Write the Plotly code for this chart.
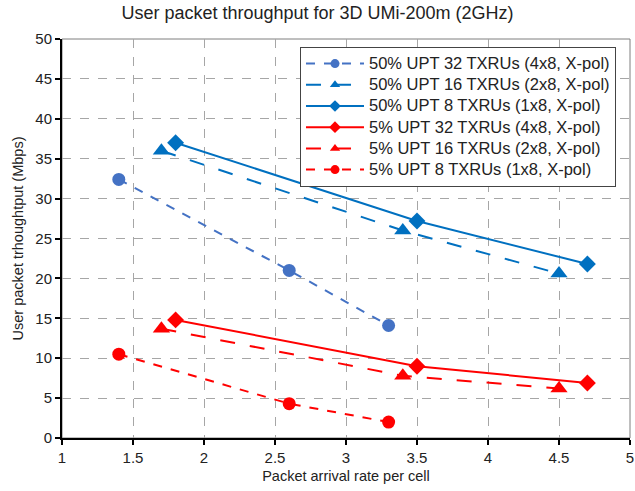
import plotly.graph_objects as go

names = [
    "50% UPT 32 TXRUs (4x8, X-pol)",
    "50% UPT 16 TXRUs (2x8, X-pol)",
    "50% UPT 8 TXRUs (1x8, X-pol)",
    "5% UPT 32 TXRUs (4x8, X-pol)",
    "5% UPT 16 TXRUs (2x8, X-pol)",
    "5% UPT 8 TXRUs (1x8, X-pol)",
]
x_a = [1.4, 2.6, 3.3]
x_b = [1.7, 3.4, 4.5]
x_c = [1.8, 3.5, 4.7]
upt50_32 = [32.4, 21.0, 14.1]
upt50_16 = [36.0, 26.0, 20.6]
upt50_8 = [37.0, 27.2, 21.8]
upt5_32 = [14.8, 9.0, 6.9]
upt5_16 = [13.7, 7.8, 6.2]
upt5_8 = [10.5, 4.3, 2.0]

xs = [x_a, x_b, x_c, x_c, x_b, x_a]
ys = [upt50_32, upt50_16, upt50_8, upt5_32, upt5_16, upt5_8]
colors = ["#4472C4", "#0070C0", "#0070C0", "#FF0000", "#FF0000", "#FF0000"]
dashes = ["dash", "longdash", "solid", "solid", "longdash", "dash"]
symbols = ["circle", "triangle-up", "diamond", "diamond", "triangle-up", "circle"]
sizes = [13, 15, 13, 13, 15, 13]

fig = go.Figure()
for i, (n, x, y, c, d, s, sz) in enumerate(zip(names, xs, ys, colors, dashes, symbols, sizes)):
    fig.add_trace(go.Scatter(
        x=x, y=y, name=n, legendgroup=str(i), showlegend=False,
        mode="lines+markers",
        line=dict(color=c, width=2, dash=d),
        marker=dict(symbol=s, size=sz, color=c),
    ))
    # legend entry with smaller marker
    fig.add_trace(go.Scatter(
        x=[None], y=[None], legendgroup=str(i), showlegend=True,
        name='<span style="font-size:16.5px">' + n + '</span>',
        mode="lines+markers",
        line=dict(color=c, width=2, dash=d),
        marker=dict(symbol=s, size=9, color=c),
    ))

# gray frame on top/right of plot area
fig.add_shape(type="rect", xref="x domain", yref="y domain", x0=0, x1=1, y0=0, y1=1,
              line=dict(color="#7F7F7F", width=1), layer="below")

fig.update_layout(
    width=635, height=491,
    margin=dict(l=62, r=5, t=39, b=53, autoexpand=False),
    paper_bgcolor="white", plot_bgcolor="white",
    font=dict(family="Liberation Sans, Arial, sans-serif", size=15, color="#222222"),
    title=dict(text="User packet throughput for 3D UMi-200m (2GHz)",
               x=0.5, xanchor="center", y=1 - 12.5 / 491, yanchor="middle",
               font=dict(size=18, color="#222222")),
    showlegend=True,
    legend=dict(x=0.419, y=0.98, xanchor="left", yanchor="top",
                bgcolor="white", bordercolor="#444444", borderwidth=1,
                itemwidth=58,
                font=dict(size=14, color="#222222"), tracegroupgap=0),
)
fig.update_xaxes(
    range=[1, 5], tick0=1, dtick=0.5, showgrid=True, automargin=False,
    gridcolor="#A6A6A6", griddash="dash", gridwidth=1,
    showline=True, linecolor="black", linewidth=2,
    ticks="outside", ticklen=5, tickcolor="black", tickwidth=2,
    title=dict(text="Packet arrival rate per cell", font=dict(size=14.5), standoff=6),
    zeroline=False,
)
fig.update_yaxes(
    range=[0, 50], tick0=0, dtick=5, showgrid=True, automargin=False,
    gridcolor="#A6A6A6", griddash="dash", gridwidth=1,
    showline=True, linecolor="black", linewidth=2,
    ticks="outside", ticklen=5, tickcolor="black", tickwidth=2,
    title=dict(text="User packet trhoughtput (Mbps)", font=dict(size=14.5), standoff=8),
    zeroline=False,
)
fig.write_html("out.html", config={"displayModeBar": False},
               post_script="document.body.style.margin='0';")
